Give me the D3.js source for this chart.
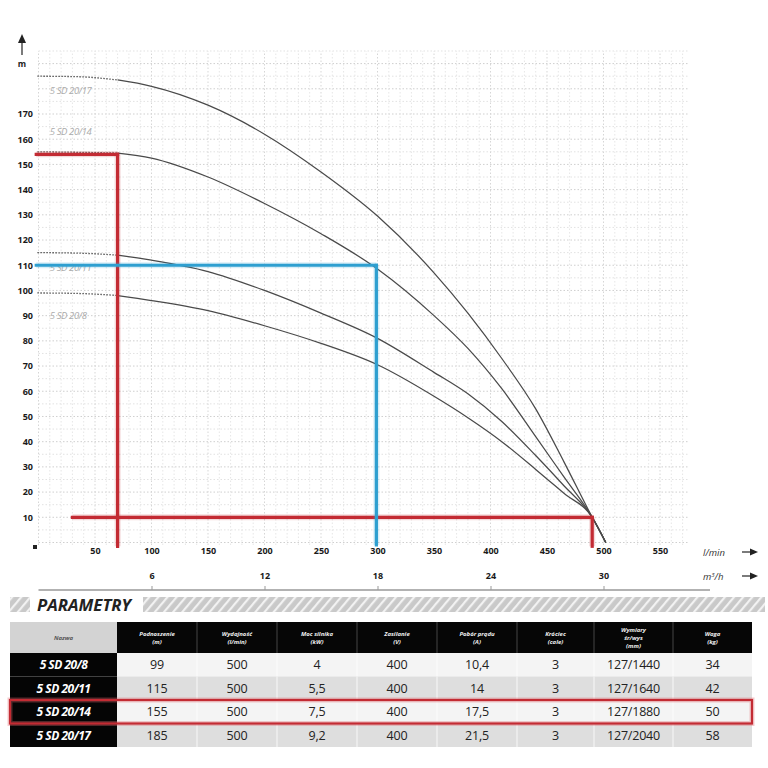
<!DOCTYPE html>
<html><head><meta charset="utf-8">
<script src="https://cdn.jsdelivr.net/npm/d3@7"></script>
<style>
html,body{margin:0;padding:0;background:#fff;}
svg{display:block;}
text{font-family:"Open Sans","DejaVu Sans",sans-serif;}
</style></head>
<body>
<svg id="c" width="768" height="768"></svg>
<script>
// ---------- DATA ----------
const seriesNames = ["5 SD 20/8", "5 SD 20/11", "5 SD 20/14", "5 SD 20/17"];
const flows = [70, 100, 150, 200, 250, 300, 350, 380, 410, 440, 465, 490, 502];
const head_20_8  = [98, 96, 92, 86, 79, 70.5, 58, 49.5, 40, 29, 19.5, 10, 0];
const head_20_11 = [114, 112, 107.5, 100, 91, 81, 67.5, 59, 48, 34.5, 22.5, 10, 0];
const head_20_14 = [154.5, 152.5, 145, 134.5, 122.5, 108.5, 90, 77, 61, 42, 26, 10, 0];
const head_20_17 = [183.5, 181, 173.5, 162, 147, 129.5, 107, 91, 73, 53, 32, 10, 0];
const shutoffHead = [99, 115, 155, 185];
const labelHead = [90, 109, 163, 179];
const headTicks = [10,20,30,40,50,60,70,80,90,100,110,120,130,140,150,160,170];
const flowTicks = [50,100,150,200,250,300,350,400,450,500,550];
const m3hTicks = [6,12,18,24,30];
// duty lines
const redTop = {q: 70, h: 154};
const redBottom = {qFrom: 30, q: 490, h: 10};
const blueDuty = {q: 299, h: 110};
// table
const colHeaders = [["Nazwa"],["Podnoszenie","(m)"],["Wydajność","(l/min)"],["Moc silnika","(kW)"],["Zasilanie","(V)"],["Pobór prądu","(A)"],["Króciec","(cale)"],["Wymiary","śr/wys","(mm)"],["Waga","(kg)"]];
const podnoszenie = ["99","115","155","185"];
const wydajnosc = ["500","500","500","500"];
const mocSilnika = ["4","5,5","7,5","9,2"];
const zasilanie = ["400","400","400","400"];
const poborPradu = ["10,4","14","17,5","21,5"];
const krociec = ["3","3","3","3"];
const wymiary = ["127/1440","127/1640","127/1880","127/2040"];
const waga = ["34","42","50","58"];
const highlightRow = 2;

// ---------- CHART ----------
const svg = d3.select("#c");
const x = d3.scaleLinear().domain([0, 550]).range([38.5, 660]);
const y = d3.scaleLinear().domain([0, 170]).range([542.5, 114]);
const xm = d3.scaleLinear().domain([0, 33]).range([x(0), x(550)]);

// grid
const grid = svg.append("g");
grid.selectAll("line.h").data(d3.range(0, 196, 5)).join("line")
  .attr("x1", x(0)).attr("x2", x(575)).attr("y1", d=>y(d)).attr("y2", d=>y(d))
  .attr("stroke", d=> d%10===0 ? "#cfcfcf" : "#e2e2e2").attr("stroke-width", 1).attr("stroke-dasharray","1.5,2");
grid.selectAll("line.v").data(d3.range(0, 576, 10)).join("line")
  .attr("y1", y(-1)).attr("y2", y(195)).attr("x1", d=>x(d)).attr("x2", d=>x(d))
  .attr("stroke", d=> d%50===0 ? "#d6d6d6" : "#e6e6e6").attr("stroke-width", 1).attr("stroke-dasharray","1.5,2");

// curves
const allHeads = [head_20_8, head_20_11, head_20_14, head_20_17];
const line = d3.line().x(d=>x(d[0])).y(d=>y(d[1])).curve(d3.curveMonotoneX);
allHeads.forEach((hs, i) => {
  const pts = flows.map((q, j) => [q, hs[j]]);
  svg.append("path").attr("d", line(pts)).attr("fill","none")
    .attr("stroke","#4a4a4a").attr("stroke-width",1.25);
  svg.append("path").attr("d", line([[-1, shutoffHead[i]],[35, shutoffHead[i]-0.2],[flows[0], hs[0]]]))
    .attr("fill","none").attr("stroke","#555").attr("stroke-width",1.3).attr("stroke-dasharray","1.5,1.5");
  svg.append("text").attr("x", x(10)).attr("y", y(labelHead[i])+3)
    .attr("font-size", 9.5).attr("font-style","italic").attr("fill","#ababab")
    .attr("letter-spacing","-0.4").text(seriesNames[i]);
});

// duty lines
const red = "#c32b33", blue = "#2e9fd0";
function seg(x1,y1,x2,y2,c){
  svg.append("line").attr("x1",x1).attr("y1",y1).attr("x2",x2).attr("y2",y2)
    .attr("stroke",c).attr("stroke-width",6).attr("stroke-opacity",0.18);
  svg.append("line").attr("x1",x1).attr("y1",y1).attr("x2",x2).attr("y2",y2)
    .attr("stroke",c).attr("stroke-width",3.2).attr("stroke-linecap","square");
}
seg(x(-2), y(redTop.h), x(redTop.q), y(redTop.h), red);
seg(x(redTop.q), y(redTop.h), x(redTop.q), y(-1.5), red);
seg(x(redBottom.qFrom), y(redBottom.h), x(redBottom.q), y(redBottom.h), red);
seg(x(redBottom.q), y(redBottom.h), x(redBottom.q), y(-1.5), red);
seg(x(-2), y(blueDuty.h), x(blueDuty.q), y(blueDuty.h), blue);
seg(x(blueDuty.q), y(blueDuty.h), x(blueDuty.q), y(-1), blue);

// y axis
const yAxis = svg.append("g").attr("transform","translate(33,0)")
  .call(d3.axisLeft(y).tickValues(headTicks).tickSize(0).tickPadding(0));
yAxis.select(".domain").remove();
yAxis.selectAll("text").attr("font-size",9).attr("font-weight","bold").attr("fill","#1a1a1a")
  .attr("font-family","'Open Sans',sans-serif");
svg.append("text").attr("x",22).attr("y",67).attr("text-anchor","middle")
  .attr("font-size",8.5).attr("font-weight","bold").attr("fill","#1a1a1a").text("m");
svg.append("line").attr("x1",22).attr("x2",22).attr("y1",55).attr("y2",40).attr("stroke","#222").attr("stroke-width",1.2);
svg.append("path").attr("d","M18,43 L22,34 L26,43 Z").attr("fill","#222");
svg.append("rect").attr("x",33).attr("y",545).attr("width",4).attr("height",4).attr("fill","#222");

// x axis l/min
const xAxis = svg.append("g").attr("transform","translate(0,548)")
  .call(d3.axisBottom(x).tickValues(flowTicks).tickSize(0).tickPadding(0));
xAxis.select(".domain").remove();
xAxis.selectAll("text").attr("font-size",9).attr("font-weight","bold").attr("fill","#1a1a1a")
  .attr("font-family","'Open Sans',sans-serif");
svg.append("text").attr("x",703).attr("y",556).attr("font-size",9.5).attr("font-style","italic").attr("fill","#333").text("l/min");
function arrow(yy){
  svg.append("line").attr("x1",742).attr("x2",753).attr("y1",yy).attr("y2",yy).attr("stroke","#222").attr("stroke-width",1.2);
  svg.append("path").attr("d",`M750,${yy-3.5} L758,${yy} L750,${yy+3.5} Z`).attr("fill","#222");
}
arrow(552);

// m3/h axis
svg.append("line").attr("x1",x(0)).attr("x2",710).attr("y1",590).attr("y2",590).attr("stroke","#999").attr("stroke-width",1.3);
const mAxis = svg.append("g").attr("transform","translate(0,590)")
  .call(d3.axisTop(xm).tickValues(m3hTicks).tickSize(4).tickPadding(7));
mAxis.select(".domain").remove();
mAxis.selectAll("line").attr("stroke","#999");
mAxis.selectAll("text").attr("font-size",9).attr("font-weight","bold").attr("fill","#1a1a1a")
  .attr("font-family","'Open Sans',sans-serif");
svg.append("text").attr("x",703).attr("y",580).attr("font-size",9.5).attr("font-style","italic").attr("fill","#333")
  .html('m<tspan dy="-3" font-size="6">3</tspan><tspan dy="3">/h</tspan>');
arrow(576);

// PARAMETRY band
const defs = svg.append("defs");
const pat = defs.append("pattern").attr("id","hatch").attr("patternUnits","userSpaceOnUse")
  .attr("width",7).attr("height",7).attr("patternTransform","rotate(40)");
pat.append("rect").attr("width",7).attr("height",7).attr("fill","#c9c9c9");
pat.append("rect").attr("width",2.2).attr("height",7).attr("fill","#f2f2f2");
svg.append("rect").attr("x",10).attr("y",597).attr("width",20).attr("height",15).attr("fill","url(#hatch)");
svg.append("rect").attr("x",143).attr("y",597).attr("width",622).attr("height",15).attr("fill","url(#hatch)");
svg.append("text").attr("x",37).attr("y",611).attr("font-size",16).attr("font-weight","bold").attr("font-style","italic")
  .attr("fill","#222").attr("textLength",94).attr("lengthAdjust","spacingAndGlyphs").text("PARAMETRY");

// TABLE
const colX = [10, 117, 197, 277, 357, 437, 517, 594, 673, 752];
const headerTop = 622, headerH = 31, rowH = 23.5;
const rowsData = seriesNames.map((n,i)=>[n, podnoszenie[i], wydajnosc[i], mocSilnika[i], zasilanie[i], poborPradu[i], krociec[i], wymiary[i], waga[i]]);
const tbl = svg.append("g");
colHeaders.forEach((h, c) => {
  tbl.append("rect").attr("x", colX[c]).attr("y", headerTop).attr("width", colX[c+1]-colX[c]).attr("height", headerH)
    .attr("fill", c===0 ? "#d3d3d3" : "#060606");
  if (c>1) tbl.append("line").attr("x1",colX[c]).attr("x2",colX[c]).attr("y1",headerTop).attr("y2",headerTop+headerH).attr("stroke","#555").attr("stroke-width",0.8);
  const cx = (colX[c]+colX[c+1])/2;
  const n = h.length;
  h.forEach((t, k) => {
    tbl.append("text").attr("x", cx).attr("y", headerTop + headerH/2 + (k-(n-1)/2)*8 + 2.5)
      .attr("text-anchor","middle").attr("font-size",6).attr("font-weight","bold").attr("font-style","italic")
      .attr("fill", c===0 ? "#555" : "#eee").text(t);
  });
});
rowsData.forEach((r, i) => {
  const ry = headerTop + headerH + i*rowH;
  tbl.append("rect").attr("x", colX[1]).attr("y", ry).attr("width", colX[9]-colX[1]).attr("height", rowH)
    .attr("fill", i%2===0 ? "#f4f4f4" : "#dedede");
  tbl.append("rect").attr("x", colX[0]).attr("y", ry).attr("width", colX[1]-colX[0]).attr("height", rowH).attr("fill","#050505");
  for (let c=2;c<9;c++) tbl.append("line").attr("x1",colX[c]).attr("x2",colX[c]).attr("y1",ry).attr("y2",ry+rowH).attr("stroke","#fff").attr("stroke-width",0.8);
  r.forEach((v, c) => {
    tbl.append("text").attr("x",(colX[c]+colX[c+1])/2).attr("y", ry+rowH/2+4.5)
      .attr("text-anchor","middle").attr("font-size", c===0 ? 12 : 12.5)
      .attr("font-weight", c===0 ? "bold" : "normal").attr("font-style", c===0 ? "italic" : "normal")
      .attr("letter-spacing", c===0 ? "-0.5" : "-0.2")
      .attr("fill", c===0 ? "#fff" : "#222").text(v);
  });
});
const hy = headerTop + headerH + highlightRow*rowH;
tbl.append("rect").attr("x",colX[0]).attr("y",hy).attr("width",colX[9]-colX[0]).attr("height",rowH)
  .attr("fill","none").attr("stroke","#e06a70").attr("stroke-width",5).attr("stroke-opacity",0.35);
tbl.append("rect").attr("x",colX[0]).attr("y",hy).attr("width",colX[9]-colX[0]).attr("height",rowH)
  .attr("fill","none").attr("stroke",red).attr("stroke-width",2.2);
</script>
</body></html>
